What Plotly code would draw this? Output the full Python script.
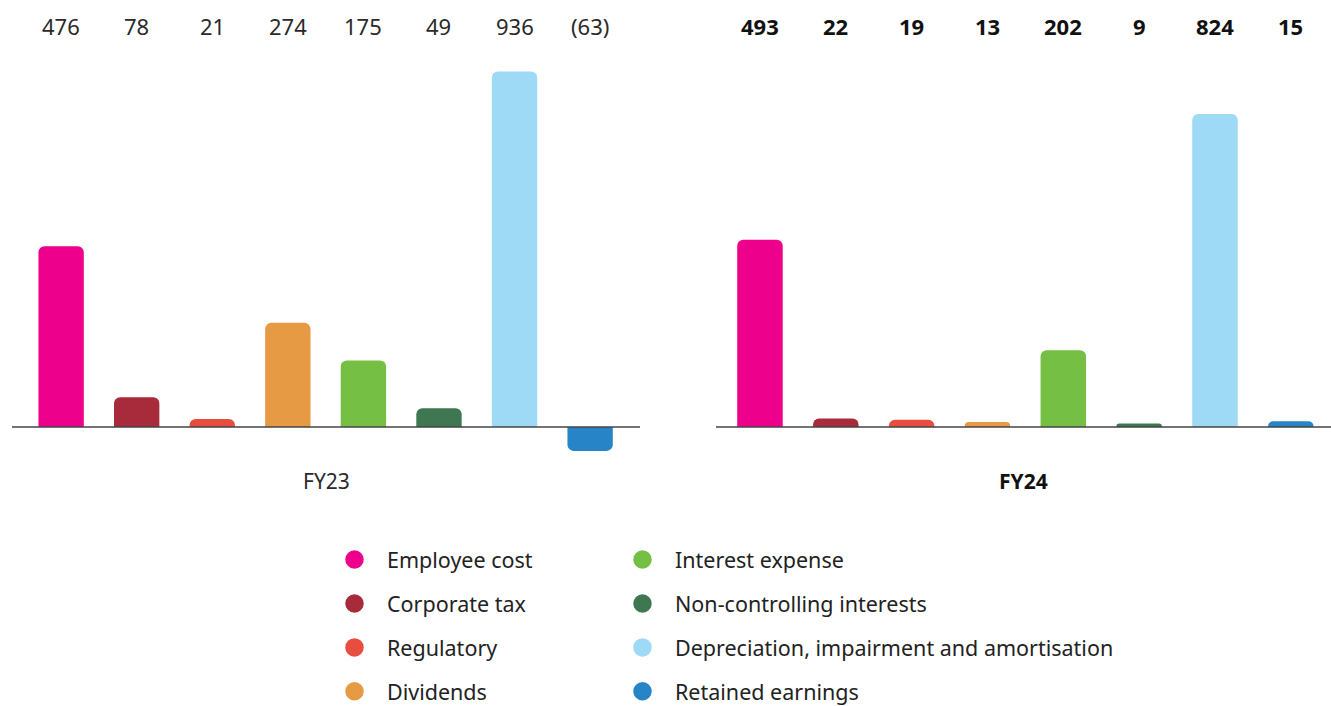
import plotly.graph_objects as go

# Cost categories shown in both years, with their brand colours
categories = [
    "Employee cost", "Corporate tax", "Regulatory", "Dividends",
    "Interest expense", "Non-controlling interests",
    "Depreciation, impairment and amortisation", "Retained earnings",
]
colors = ["#EC008C", "#A72B3A", "#E84E40", "#E59A43",
          "#74BF44", "#3F7752", "#9EDAF5", "#2684C7"]

fy23_values = [476, 78, 21, 274, 175, 49, 936, -63]
fy24_values = [493, 22, 19, 13, 202, 9, 824, 15]
years = ["FY23", "FY24"]

W, H = 1331, 706
FONT = "Noto Sans"


def fmt(v):
    return f"({abs(v)})" if v < 0 else f"{v}"


fig = go.Figure()

# Bars: one trace per year, each on its own x axis
for values, xa, ya in [(fy23_values, "x", "y"), (fy24_values, "x2", "y2")]:
    fig.add_trace(go.Bar(
        x=categories, y=values, xaxis=xa, yaxis=ya,
        marker=dict(color=colors, cornerradius=6, line=dict(width=0)),
        width=0.6, showlegend=False, hoverinfo="x+y",
    ))

# Legend entries (circle swatches) split across two columns
for i, (name, col) in enumerate(zip(categories, colors)):
    fig.add_trace(go.Scatter(
        x=[None], y=[None], mode="markers", name=name,
        marker=dict(symbol="circle", size=16, color=col,
                    line=dict(color=col, width=2.5)),
        legend="legend" if i < 4 else "legend2",
        legendgroup=name,
    ))

annotations = []
label_y = 1 - 26 / H
for values, xa, bold in [(fy23_values, "x", False), (fy24_values, "x2", True)]:
    for cat, v in zip(categories, values):
        txt = fmt(v)
        annotations.append(dict(
            x=cat, xref=xa, y=label_y, yref="paper", showarrow=False,
            text=f"<b>{txt}</b>" if bold else txt,
            font=dict(size=22, color="#111111" if bold else "#2a2a2a", family=FONT),
            xanchor="center", yanchor="middle",
        ))

title_y = 1 - 481 / H
annotations.append(dict(x=0.5, xref="x domain", y=title_y, yref="paper",
                        text=years[0], showarrow=False, yanchor="middle",
                        font=dict(size=21, color="#2a2a2a", family=FONT)))
annotations.append(dict(x=0.5, xref="x2 domain", y=title_y, yref="paper",
                        text=f"<b>{years[1]}</b>", showarrow=False, yanchor="middle",
                        font=dict(size=21, color="#111111", family=FONT)))

y_top, y_bot = 1 - 60 / H, 1 - 460 / H
yrange = [-87, 966]

axis_common = dict(showgrid=False, showticklabels=False, ticks="", showline=False,
                   zeroline=False, fixedrange=True)

legend_common = dict(
    orientation="v", bgcolor="rgba(0,0,0,0)", borderwidth=0,
    font=dict(size=21.5, color="#222222", family=FONT),
    traceorder="grouped", tracegroupgap=13, itemwidth=55,
    xanchor="left", yanchor="bottom", y=-6 / H,
)

fig.update_layout(
    width=W, height=H,
    margin=dict(l=0, r=0, t=0, b=0, autoexpand=False),
    paper_bgcolor="white", plot_bgcolor="white",
    font=dict(family=FONT),
    barmode="overlay",
    xaxis=dict(domain=[12 / W, 640 / W], range=[-0.65, 7.66], **axis_common),
    xaxis2=dict(domain=[716 / W, 1.0], range=[-0.58, 7.53], **axis_common),
    yaxis=dict(domain=[y_bot, y_top], range=yrange, anchor="x", **axis_common),
    yaxis2=dict(domain=[y_bot, y_top], range=yrange, anchor="x2", **axis_common),
    legend=dict(x=322 / W, **legend_common),
    legend2=dict(x=610 / W, **legend_common),
    annotations=annotations,
    shapes=[
        dict(type="line", xref="x domain", yref="y", x0=0, x1=1, y0=0, y1=0,
             line=dict(color="#444444", width=1.5), layer="above"),
        dict(type="line", xref="x2 domain", yref="y2", x0=0, x1=1, y0=0, y1=0,
             line=dict(color="#444444", width=1.5), layer="above"),
    ],
)

fig.write_html("out.html")
